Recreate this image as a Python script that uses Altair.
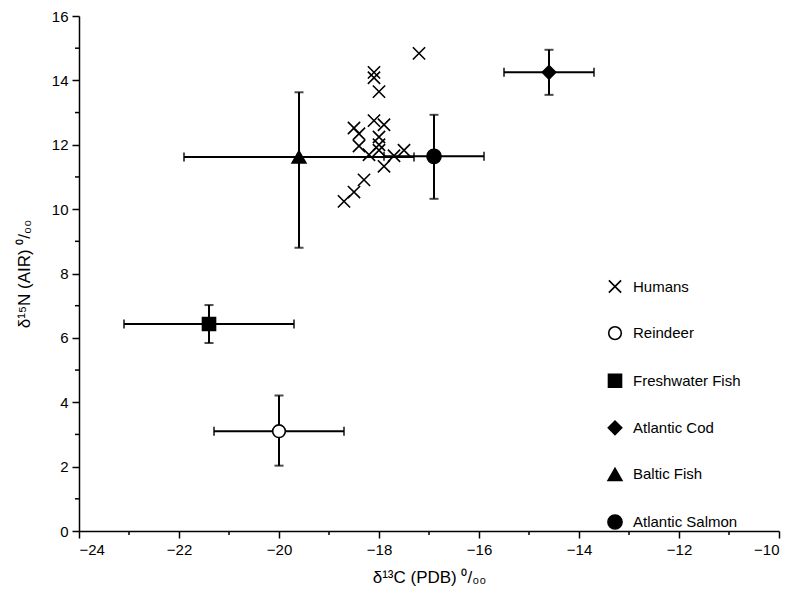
import altair as alt
import pandas as pd

groups = ["Humans", "Reindeer", "Freshwater Fish", "Atlantic Cod", "Baltic Fish", "Atlantic Salmon"]
shapes = ["M-1,-1L1,1M-1,1L1,-1", "circle", "square", "diamond", "triangle-up", "circle"]
fills = ["transparent", "white", "black", "black", "black", "black"]
sizes = [150, 200, 180, 520, 250, 270]

human_x = [-17.2, -18.1, -18.1, -18.0, -18.5, -18.4, -18.1, -17.9, -18.0, -18.0,
           -18.4, -18.2, -18.0, -17.7, -17.5, -17.9, -18.3, -18.5, -18.7]
human_y = [14.84, 14.25, 14.08, 13.65, 12.52, 12.34, 12.75, 12.62, 12.24, 12.0,
           11.96, 11.69, 11.83, 11.66, 11.83, 11.33, 10.91, 10.53, 10.24]

fauna_names = ["Reindeer", "Freshwater Fish", "Atlantic Cod", "Baltic Fish", "Atlantic Salmon"]
fauna_x = [-20.0, -21.4, -14.6, -19.6, -16.9]
fauna_xlo = [-21.3, -23.1, -15.5, -21.9, -17.9]
fauna_xhi = [-18.7, -19.7, -13.7, -17.3, -15.9]
fauna_y = [3.1, 6.43, 14.25, 11.62, 11.64]
fauna_ylo = [2.03, 5.84, 13.55, 8.8, 10.32]
fauna_yhi = [4.21, 7.02, 14.95, 13.63, 12.93]

minor_x = [-23, -21, -19, -17, -15, -13, -11]
minor_y = [1, 3, 5, 7, 9, 11, 13, 15]

humans = pd.DataFrame({"group": "Humans", "x": human_x, "y": human_y})
fauna = pd.DataFrame({"group": fauna_names, "x": fauna_x, "y": fauna_y,
                      "xlo": fauna_xlo, "xhi": fauna_xhi,
                      "ylo": fauna_ylo, "yhi": fauna_yhi})
points = pd.concat([humans, fauna[["group", "x", "y"]]], ignore_index=True)

W, H = 700, 515
FONT = "Liberation Sans"

xscale = alt.Scale(domain=[-24, -10], nice=False, zero=False)
yscale = alt.Scale(domain=[0, 16], nice=False, zero=False)

xaxis = alt.Axis(values=list(range(-24, -9, 2)), title="δ¹³C (PDB) ⁰/₀₀", grid=False)
yaxis = alt.Axis(values=list(range(0, 17, 2)), title="δ¹⁵N (AIR) ⁰/₀₀", grid=False)

base_f = alt.Chart(fauna)

hbars = base_f.mark_rule(color="black", strokeWidth=2).encode(
    x=alt.X("xlo:Q", scale=xscale, axis=xaxis), x2="xhi:Q",
    y=alt.Y("y:Q", scale=yscale, axis=yaxis))
vbars = base_f.mark_rule(color="black", strokeWidth=2).encode(
    x=alt.X("x:Q", scale=xscale), y=alt.Y("ylo:Q", scale=yscale), y2="yhi:Q")
xcaps = base_f.transform_fold(["xlo", "xhi"], as_=["k", "v"]).mark_tick(
    color="black", thickness=2, size=9, orient="vertical").encode(
    x=alt.X("v:Q", scale=xscale), y=alt.Y("y:Q", scale=yscale))
ycaps = base_f.transform_fold(["ylo", "yhi"], as_=["k", "v"]).mark_tick(
    color="black", thickness=2, size=9, orient="horizontal").encode(
    x=alt.X("x:Q", scale=xscale), y=alt.Y("v:Q", scale=yscale))

pts = alt.Chart(points).mark_point(stroke="black", strokeWidth=1.6, opacity=1, fillOpacity=1).encode(
    x=alt.X("x:Q", scale=xscale),
    y=alt.Y("y:Q", scale=yscale),
    shape=alt.Shape("group:N", scale=alt.Scale(domain=groups, range=shapes), title=None,
                    legend=alt.Legend(orient="none", legendX=528, legendY=263, title=None,
                                      labelFontSize=15, labelFont=FONT, labelColor="black",
                                      rowPadding=26.6, labelOffset=10,
                                      symbolStrokeColor="black", symbolStrokeWidth=1.6)),
    fill=alt.Fill("group:N", scale=alt.Scale(domain=groups, range=fills), title=None),
    size=alt.Size("group:N", scale=alt.Scale(domain=groups, range=sizes), title=None),
)

minx = alt.Chart(pd.DataFrame({"v": minor_x})).mark_rule(color="black", strokeWidth=1.5).encode(
    x=alt.X("v:Q", scale=xscale), y=alt.value(H), y2=alt.value(H + 4))
miny = alt.Chart(pd.DataFrame({"v": minor_y})).mark_rule(color="black", strokeWidth=1.5).encode(
    y=alt.Y("v:Q", scale=yscale), x=alt.value(0), x2=alt.value(-4))

chart = alt.layer(hbars, vbars, xcaps, ycaps, pts, minx, miny).properties(
    width=W, height=H,
    padding={"left": 71, "top": 8, "right": 3, "bottom": 62},
    autosize=alt.AutoSizeParams(type="none"),
).configure_view(stroke=None).configure_axis(
    domainColor="black", domainWidth=1.5, tickColor="black", tickWidth=1.5, tickSize=7,
    labelFont=FONT, labelFontSize=15, labelColor="black", labelPadding=4,
    titleFont=FONT, titleFontSize=17, titleFontWeight="normal", titleColor="black",
).configure_axisX(titlePadding=12).configure_axisY(titlePadding=18)

chart.save("out.html", embed_options={"renderer": "svg", "actions": False})
